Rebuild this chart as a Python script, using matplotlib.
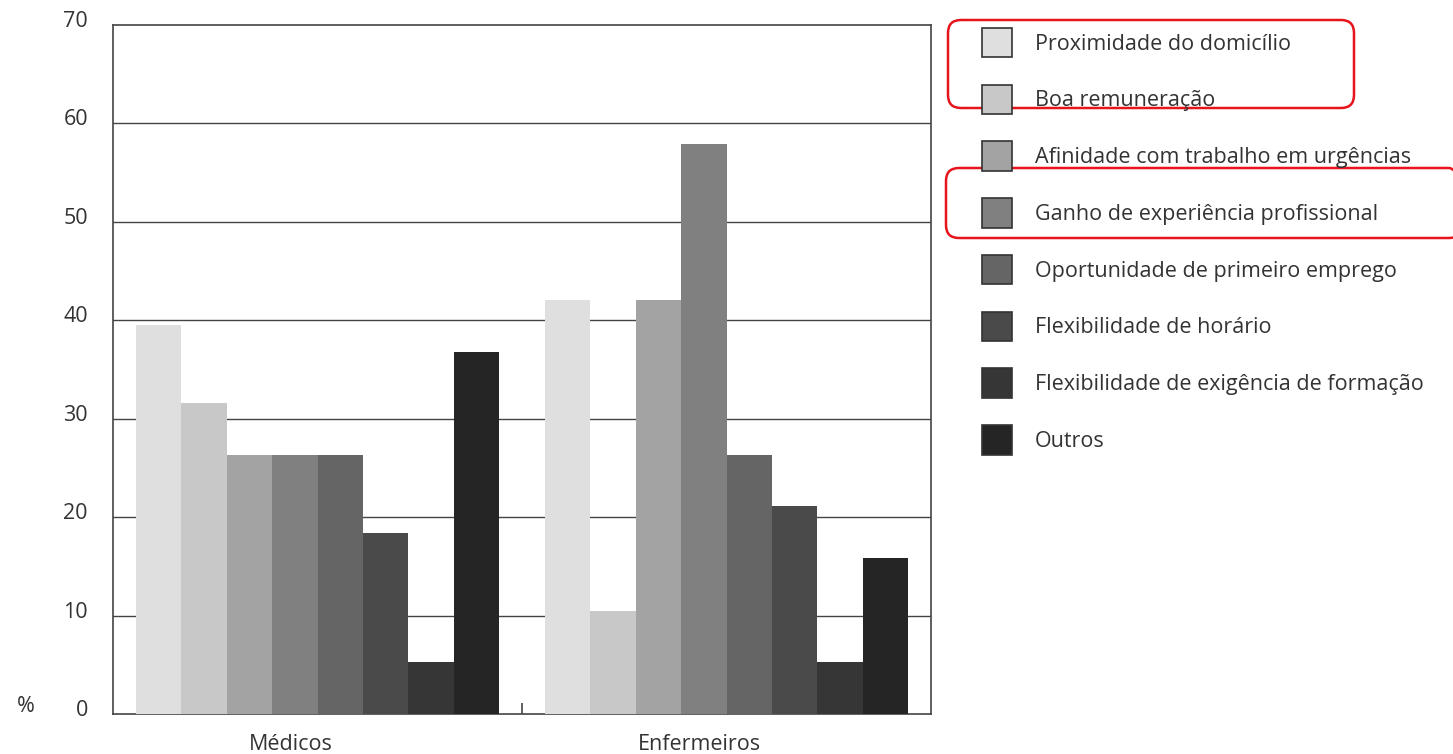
import matplotlib
matplotlib.use("Agg")
import matplotlib.pyplot as plt
import numpy as np
from matplotlib.patches import Patch, FancyBboxPatch
from matplotlib.transforms import ScaledTranslation

plt.rcParams['font.family'] = ['Open Sans', 'DejaVu Sans']

groups = ["Médicos", "Enfermeiros"]
motivos = [
    "Proximidade do domicílio",
    "Boa remuneração",
    "Afinidade com trabalho em urgências",
    "Ganho de experiência profissional",
    "Oportunidade de primeiro emprego",
    "Flexibilidade de horário",
    "Flexibilidade de exigência de formação",
    "Outros",
]
medicos = [39.5, 31.6, 26.3, 26.3, 26.3, 18.4, 5.3, 36.8]
enfermeiros = [42.1, 10.5, 42.1, 57.9, 26.3, 21.1, 5.3, 15.8]
cores = ["#dfdfdf", "#c8c8c8", "#a3a3a3", "#808080",
         "#656565", "#4a4a4a", "#363636", "#252525"]
yticks = [0, 10, 20, 30, 40, 50, 60, 70]

text_color = "#333333"
line_color = "#444444"
fs = 15.5

fig = plt.figure(figsize=(14.53, 7.54), dpi=100)
ax = fig.add_axes([113 / 1453, 40 / 754, 818 / 1453, 689 / 754])

values = np.array([medicos, enfermeiros])
n = len(motivos)
group_w = 0.888
bar_w = group_w / n
x = np.arange(len(groups))
for i in range(n):
    pos = x - group_w / 2 + bar_w * (i + 0.5)
    ax.bar(pos, values[:, i], width=bar_w, color=cores[i], edgecolor="none",
           zorder=3)

ax.set_xlim(-0.5, 1.5)
ax.set_ylim(0, 70)

# horizontal rules behind the bars
for t in yticks[1:-1]:
    ax.axhline(t, color=line_color, lw=1.0, zorder=1)

for s in ax.spines.values():
    s.set_color(line_color)
    s.set_linewidth(1.2)

ax.set_yticks(yticks)
ax.set_yticklabels([str(t) for t in yticks])
ax.tick_params(axis="y", length=0, pad=18, labelsize=fs, labelcolor=text_color)
shift = ScaledTranslation(0, 6 / 100, fig.dpi_scale_trans)
for lbl in ax.get_yticklabels():
    lbl.set_transform(lbl.get_transform() + shift)

# divider tick between the two groups
ax.set_xticks([0.5])
ax.set_xticklabels([""])
ax.tick_params(axis="x", direction="in", length=8, width=1.2, color=line_color)

for xi, g in zip(x, groups):
    ax.text(xi - 0.065, -0.044, g, transform=ax.get_xaxis_transform(),
            ha="center", va="center", fontsize=fs, color=text_color)

fig.text(26 / 1453, 1 - 707 / 754, "%", ha="center", va="center",
         fontsize=fs, color=text_color)

handles = [Patch(facecolor=c, edgecolor="#333333", linewidth=1.2) for c in cores]
px = fs * 100 / 72
fig.legend(handles, motivos, loc="upper left",
           bbox_to_anchor=(982 / 1453, 1 - 28 / 754),
           frameon=False, fontsize=fs, labelcolor=text_color,
           borderpad=0, borderaxespad=0,
           handlelength=30 / px, handleheight=1.72,
           handletextpad=23 / px, labelspacing=27.4 / px)

# red highlight frames around selected legend entries
for (x0, y0, x1, y1) in [(948, 20, 1354, 108), (946, 168, 1462, 238)]:
    box = FancyBboxPatch(((x0) / 100, (754 - y1) / 100), (x1 - x0) / 100,
                         (y1 - y0) / 100, boxstyle="round,pad=0,rounding_size=0.13",
                         transform=fig.dpi_scale_trans, facecolor="none",
                         edgecolor="#e8141c", linewidth=1.8, clip_on=False)
    fig.add_artist(box)

fig.savefig("out.png", dpi=100)
